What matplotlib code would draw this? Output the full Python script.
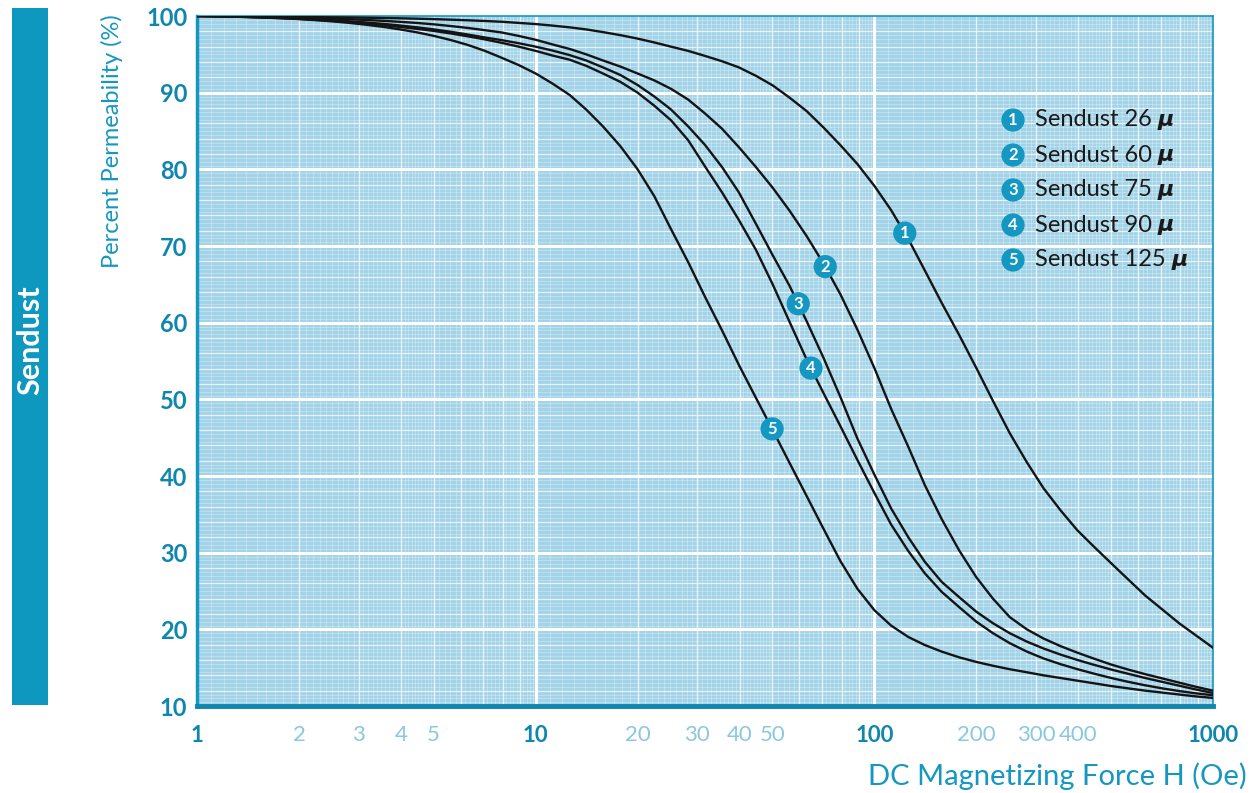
import numpy as np
import matplotlib
matplotlib.use("Agg")
import matplotlib.pyplot as plt
from matplotlib.patches import Rectangle
from matplotlib.ticker import NullLocator

# DC bias curves: percent permeability versus magnetizing force H (Oe)
field_oe = [1, 1.12, 1.26, 1.41, 1.58, 1.78, 2, 2.24, 2.51, 2.82,
            3.16, 3.55, 3.98, 4.47, 5.01, 5.62, 6.31, 7.08, 7.94, 8.91,
            10, 11.2, 12.6, 14.1, 15.8, 17.8, 20, 22.4, 25.1, 28.2,
            31.6, 35.5, 39.8, 44.7, 50.1, 56.2, 63.1, 70.8, 79.4, 89.1,
            100, 112, 126, 141, 158, 178, 200, 224, 251, 282,
            316, 355, 398, 447, 501, 562, 631, 708, 794, 891, 1000]

perm_26 = [100, 99.98, 99.96, 99.94, 99.92, 99.90, 99.88, 99.85, 99.83, 99.81,
           99.78, 99.74, 99.70, 99.65, 99.59, 99.52, 99.44, 99.35, 99.25, 99.10,
           98.95, 98.75, 98.52, 98.25, 97.90, 97.50, 97.05, 96.55, 96.00, 95.45,
           94.80, 94.10, 93.30, 92.20, 90.95, 89.35, 87.60, 85.45, 83.15, 80.70,
           77.85, 74.70, 70.90, 66.80, 62.60, 58.40, 54.10, 49.80, 45.60, 41.80,
           38.40, 35.50, 32.90, 30.70, 28.60, 26.50, 24.40, 22.60, 20.80, 19.20, 17.60]
perm_60 = [100, 99.98, 99.95, 99.92, 99.88, 99.84, 99.79, 99.73, 99.66, 99.58,
           99.48, 99.37, 99.24, 99.09, 98.91, 98.69, 98.44, 98.15, 97.85, 97.40,
           96.90, 96.30, 95.70, 95.00, 94.20, 93.40, 92.50, 91.60, 90.50, 89.10,
           87.30, 85.30, 82.90, 80.30, 77.60, 74.60, 71.30, 67.70, 63.70, 59.10,
           54.10, 48.80, 43.80, 38.80, 34.40, 30.30, 26.80, 24.00, 21.60, 20.00,
           18.80, 17.80, 16.95, 16.15, 15.40, 14.75, 14.15, 13.60, 13.05, 12.50, 12.00]
perm_75 = [100, 99.97, 99.93, 99.88, 99.82, 99.75, 99.67, 99.57, 99.45, 99.31,
           99.15, 98.97, 98.76, 98.52, 98.25, 97.94, 97.58, 97.20, 96.85, 96.45,
           96.00, 95.50, 94.90, 94.20, 93.30, 92.30, 91.00, 89.50, 87.80, 85.60,
           83.20, 80.30, 77.00, 72.90, 68.80, 64.80, 60.20, 55.40, 50.30, 44.90,
           40.20, 35.80, 32.00, 28.80, 26.20, 24.20, 22.30, 20.80, 19.50, 18.40,
           17.50, 16.70, 16.00, 15.35, 14.75, 14.20, 13.65, 13.15, 12.65, 12.15, 11.70]
perm_90 = [100, 99.97, 99.93, 99.87, 99.80, 99.72, 99.62, 99.50, 99.36, 99.20,
           99.02, 98.81, 98.57, 98.32, 98.05, 97.72, 97.35, 96.95, 96.50, 96.00,
           95.45, 94.85, 94.30, 93.50, 92.50, 91.40, 90.00, 88.30, 86.40, 83.80,
           80.40, 77.00, 73.40, 69.50, 65.00, 60.10, 55.20, 50.80, 46.50, 42.10,
           37.80, 33.70, 30.20, 27.30, 24.90, 22.90, 21.00, 19.50, 18.20, 17.10,
           16.20, 15.45, 14.80, 14.20, 13.65, 13.15, 12.70, 12.30, 11.95, 11.65, 11.40]
perm_125 = [100, 99.97, 99.93, 99.87, 99.80, 99.71, 99.60, 99.46, 99.30, 99.10,
            98.86, 98.58, 98.25, 97.86, 97.40, 96.86, 96.22, 95.45, 94.55, 93.60,
            92.50, 91.20, 89.70, 87.80, 85.60, 83.00, 80.00, 76.50, 72.20, 67.90,
            63.40, 59.00, 54.50, 50.20, 46.00, 41.70, 37.40, 33.10, 28.90, 25.30,
            22.50, 20.50, 19.00, 17.95, 17.10, 16.35, 15.75, 15.25, 14.80, 14.40,
            14.00, 13.65, 13.30, 12.95, 12.60, 12.30, 12.00, 11.75, 11.50, 11.25, 11.05]

series = [perm_26, perm_60, perm_75, perm_90, perm_125]
grades = ["26", "60", "75", "90", "125"]
# where the numbered markers sit along each curve (H, Oe)
marker_h = [123, 71.6, 59.6, 65, 49.9]

x_ticks = [1, 2, 3, 4, 5, 10, 20, 30, 40, 50, 100, 200, 300, 400, 1000]
y_ticks = [10, 20, 30, 40, 50, 60, 70, 80, 90, 100]

TEAL = "#1497c0"
TEAL_DARK = "#0f86ad"
TEAL_LIGHT = "#8ac8dd"
PAPER = "#a2d3e8"

FONT = ["Lato", "DejaVu Sans"]

W, H = 1252, 793
fig = plt.figure(figsize=(W / 100, H / 100), dpi=100)
ax = fig.add_axes([197 / W, 1 - 706 / H, (1213 - 197) / W, (706 - 16) / H])
ax.set_xscale("log")
ax.set_xlim(1, 1000)
ax.set_ylim(10, 100)
ax.set_facecolor(PAPER)

# graph-paper grid: fine, minor and major white rules
fine = np.concatenate([np.arange(1.1, 5.0, 0.1), np.arange(5.2, 10.0, 0.2)])
for dec in (1, 10, 100):
    for v in fine:
        if abs(v - round(v)) > 1e-6:
            ax.axvline(v * dec, color="white", lw=0.45, alpha=0.45, zorder=0)
    for v in range(2, 10):
        ax.axvline(v * dec, color="white", lw=1.0, alpha=0.75, zorder=0)
for v in np.arange(10.5, 100, 0.5):
    if v % 2:
        ax.axhline(v, color="white", lw=0.45, alpha=0.45, zorder=0)
for v in range(12, 100, 2):
    if v % 10:
        ax.axhline(v, color="white", lw=0.9, alpha=0.75, zorder=0)
for v in (10, 100):
    ax.axvline(v, color="white", lw=2.2, zorder=0)
for v in range(20, 100, 10):
    ax.axhline(v, color="white", lw=2.2, zorder=0)

for perm in series:
    ax.plot(field_oe, perm, color="#141414", lw=1.7, zorder=3,
            solid_joinstyle="round")

# numbered markers on the curves
logh = np.log10(field_oe)
for i, (perm, hm) in enumerate(zip(series, marker_h)):
    pm = np.interp(np.log10(hm), logh, perm)
    ax.scatter([hm], [pm], s=280, color=TEAL, edgecolors="none", zorder=5)
    ax.text(hm, pm, str(i + 1), ha="center", va="center", color="white",
            fontsize=12, fontweight="bold", family=FONT, zorder=6)

# axes frame
for side in ("top", "right"):
    ax.spines[side].set_color(TEAL)
    ax.spines[side].set_linewidth(1.2)
ax.spines["left"].set_color(TEAL)
ax.spines["left"].set_linewidth(2.5)
ax.spines["bottom"].set_color(TEAL_DARK)
ax.spines["bottom"].set_linewidth(3.5)

ax.xaxis.set_minor_locator(NullLocator())
ax.set_xticks(x_ticks)
ax.set_xticklabels([str(t) for t in x_ticks])
ax.set_yticks(y_ticks)
ax.set_yticklabels([str(t) for t in y_ticks])
ax.tick_params(length=0)
ax.tick_params(axis="x", pad=14)
ax.tick_params(axis="y", pad=7)
for lab, t in zip(ax.get_xticklabels(), x_ticks):
    lab.set_family(FONT)
    lab.set_fontsize(16)
    if t in (1, 10, 100, 1000):
        lab.set_color(TEAL_DARK)
        lab.set_fontweight("bold")
    else:
        lab.set_color(TEAL_LIGHT)
for lab in ax.get_yticklabels():
    lab.set_family(FONT)
    lab.set_fontsize(17)
    lab.set_color(TEAL_DARK)
    lab.set_fontweight("bold")

fig.text(112 / W, 1 - 14 / H, "Percent Permeability (%)", rotation=90,
         ha="center", va="top", color=TEAL, fontsize=17, family=FONT)
fig.text(1247 / W, 1 - 776 / H, "DC Magnetizing Force H (Oe)", ha="right",
         va="center", color=TEAL, fontsize=21, family=FONT)

# side tab
fig.add_artist(Rectangle((12 / W, 1 - 705 / H), 36 / W, 697 / H,
                         transform=fig.transFigure, color="#0e98bf", lw=0))
fig.text(30 / W, 1 - 340 / H, "Sendust", rotation=90, ha="center", va="center",
         color="white", fontsize=22, fontweight="bold", family=FONT)

# legend
renderer = fig.canvas.get_renderer()
for i, g in enumerate(grades):
    yy = 1 - (120 + 35 * i) / H
    ax.scatter([1013 / W], [yy], s=280, color=TEAL, edgecolors="none",
               transform=fig.transFigure, zorder=7, clip_on=False)
    fig.text(1013 / W, yy, str(i + 1), ha="center", va="center", color="white",
             fontsize=12, fontweight="bold", family=FONT, zorder=8)
    t = fig.text(1035 / W, yy, f"Sendust {g} ", ha="left", va="center",
                 color="#1a1a1a", fontsize=17, family=FONT, zorder=8)
    bb = t.get_window_extent(renderer=renderer)
    fig.text(bb.x1 / W, yy, "\u03bc", ha="left", va="center", color="#1a1a1a",
             fontsize=16, fontweight="bold", style="italic", zorder=8)

fig.savefig("out.png", dpi=100)
